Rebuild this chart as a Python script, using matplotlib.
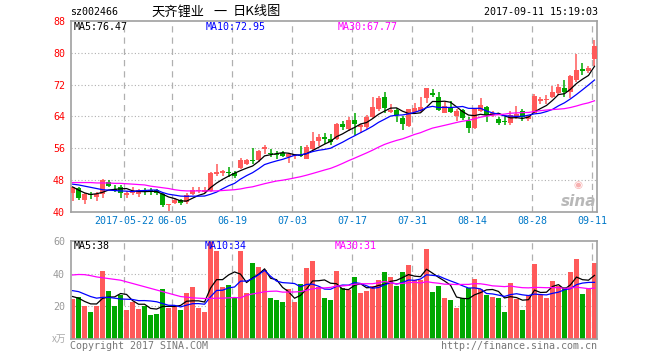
import numpy as np
import pandas as pd
import matplotlib
matplotlib.use('Agg')
import matplotlib.pyplot as plt

# ---- data ----
dates = ['2017-05-22', '06-05', '06-19', '07-03', '07-17', '07-31', '08-14', '08-28', '09-11']
date_idx = [9, 17, 27, 37, 47, 57, 67, 77, 87]

opens = [44.82, 45.99, 43.14, 44.48, 43.81, 44.48, 47.66, 45.82, 46.32, 44.15,
         44.82, 44.48, 45.49, 45.49, 45.65, 44.48, 41.80, 42.30, 42.97, 42.47,
         44.48, 45.32, 45.15, 45.32, 49.51, 49.84, 50.01, 49.84, 51.18, 52.02,
         53.03, 53.03, 55.71, 54.87, 54.70, 54.87, 53.70, 54.03, 54.37, 53.36,
         55.88, 57.89, 58.73, 58.22, 58.22, 62.08, 60.74, 63.08, 61.24, 61.24,
         63.75, 65.77, 68.95, 65.10, 65.60, 63.59, 61.58, 65.10, 65.43, 68.61,
         69.79, 68.95, 64.90, 66.27, 64.09, 65.60, 62.92, 61.07, 65.26, 66.44,
         64.26, 63.25, 62.75, 62.41, 63.75, 65.43, 63.42, 64.93, 67.94, 68.11,
         68.95, 69.96, 71.13, 70.12, 73.14, 75.82, 75.32, 78.50]
closes = [46.16, 43.64, 44.48, 44.15, 44.48, 48.00, 46.49, 45.32, 44.82, 44.82,
          45.15, 45.65, 45.15, 45.15, 44.65, 41.80, 42.13, 43.14, 42.30, 44.31,
          45.49, 45.65, 45.49, 49.68, 50.01, 50.18, 49.68, 49.17, 53.03, 53.03,
          52.86, 55.37, 56.21, 54.54, 54.37, 54.03, 54.70, 54.37, 54.03, 56.21,
          57.89, 58.73, 58.39, 57.55, 62.08, 61.41, 63.08, 62.08, 61.91, 63.92,
          66.27, 68.61, 66.10, 65.60, 64.26, 62.08, 65.77, 66.10, 66.44, 71.13,
          69.45, 65.60, 66.60, 65.10, 65.43, 63.59, 61.07, 65.93, 66.77, 64.26,
          64.76, 62.41, 62.58, 64.26, 64.59, 63.75, 64.09, 69.12, 68.45, 68.45,
          70.12, 71.46, 70.12, 74.15, 75.65, 75.49, 76.16, 81.60]
highs = [46.32, 46.32, 44.65, 44.98, 44.98, 48.17, 48.00, 46.66, 46.66, 45.32,
         46.32, 45.82, 45.99, 45.99, 45.82, 44.82, 42.13, 43.47, 43.31, 44.65,
         46.32, 46.16, 46.16, 50.01, 52.02, 50.68, 51.35, 50.35, 53.53, 53.20,
         56.04, 55.54, 56.72, 55.88, 55.21, 55.21, 54.87, 54.70, 56.55, 56.72,
         60.07, 59.56, 59.73, 59.56, 62.25, 62.75, 63.92, 64.76, 62.08, 64.26,
         68.78, 69.12, 70.12, 67.11, 66.10, 64.09, 65.93, 67.44, 68.78, 71.13,
         70.96, 70.12, 67.61, 67.94, 65.77, 65.93, 63.75, 65.93, 68.61, 66.60,
         65.26, 63.75, 63.75, 65.26, 66.60, 65.93, 64.42, 69.62, 68.95, 69.28,
         71.63, 72.13, 73.14, 74.31, 79.68, 77.50, 76.66, 83.20]
lows = [42.80, 43.14, 42.13, 43.31, 42.80, 43.64, 46.32, 44.98, 43.64, 43.47,
        44.31, 43.81, 44.15, 44.31, 44.15, 41.30, 40.29, 42.13, 41.80, 42.13,
        44.15, 44.82, 44.65, 44.98, 49.00, 49.17, 48.84, 48.50, 50.85, 51.69,
        52.02, 52.60, 54.70, 53.87, 53.36, 53.70, 52.36, 53.36, 53.87, 53.20,
        55.54, 56.55, 57.05, 56.88, 58.06, 60.57, 60.40, 59.23, 59.90, 60.90,
        63.59, 65.43, 64.93, 64.76, 62.58, 60.57, 61.24, 64.76, 65.10, 67.44,
        68.78, 65.26, 64.76, 64.76, 62.92, 63.08, 59.90, 60.74, 65.10, 62.58,
        63.75, 61.91, 61.74, 61.91, 63.25, 62.92, 62.75, 64.76, 67.11, 67.11,
        68.61, 69.45, 68.95, 68.61, 72.64, 74.48, 74.82, 76.66]
volumes = [24.4, 25.6, 20.0, 16.8, 20.4, 41.6, 29.6, 20.4, 27.2, 17.6,
           22.8, 18.4, 20.4, 14.4, 15.6, 30.8, 18.8, 20.0, 17.6, 28.4,
           32.0, 18.8, 16.4, 60.5, 54.0, 32.0, 33.2, 25.6, 53.6, 28.4,
           46.4, 44.0, 42.4, 24.8, 24.0, 22.8, 30.8, 22.4, 33.6, 43.2,
           47.6, 31.6, 24.8, 23.6, 41.6, 31.2, 30.0, 38.0, 28.4, 29.2,
           32.4, 36.0, 40.8, 38.0, 32.4, 40.8, 45.2, 36.0, 36.4, 55.2,
           28.8, 32.4, 24.8, 23.6, 18.8, 24.8, 31.2, 36.8, 30.4, 27.2,
           26.0, 25.2, 16.8, 34.4, 24.4, 18.0, 26.8, 46.0, 27.2, 25.2,
           35.6, 32.4, 31.6, 41.2, 48.8, 27.6, 30.8, 46.4]

# moving averages whose window starts before the first visible day
ma5_head = [46.3, 45.5, 44.8, 44.4]
ma10_head = [47.0, 46.8, 46.5, 46.2, 45.9, 45.6, 45.5, 45.4, 45.3]
ma30_head = [47.4, 47.4, 47.4, 47.4, 47.3, 47.3, 47.3, 47.2, 47.2, 47.1,
             47.0, 46.9, 46.8, 46.5, 46.3, 46.1, 45.9, 45.6, 45.4, 45.3,
             45.3, 45.3, 45.3, 45.3, 45.3, 45.4, 45.5, 45.6, 45.8]
vma5_head = [26.0, 25.0, 23.0, 21.5]
vma10_head = [29.6, 29.0, 27.5, 26.0, 25.0, 25.5, 25.5, 25.0, 24.5]
vma30_head = [39.2, 39.5, 39.4, 38.8, 38.0, 37.5, 37.0, 36.5, 36.0, 35.0,
              34.0, 33.0, 32.0, 31.0, 30.0, 29.0, 28.0, 27.0, 26.0, 25.6,
              25.2, 25.0, 24.8, 24.8, 25.0, 25.0, 25.2, 25.4, 25.2]

RED = '#ff5a5a'
GREEN = '#00a800'
BORDER = '#a0a0a0'
MONO = 'DejaVu Sans Mono'
CJK = ['Noto Sans CJK SC', 'DejaVu Sans']
FS = 7.2


def moving(series, n, head):
    m = pd.Series(series).rolling(n).mean().to_numpy()
    m[:len(head)] = head
    return m


o = np.array(opens)
c = np.array(closes)
h = np.array(highs)
l = np.array(lows)
v = np.array(volumes)
x = np.arange(len(c))
up = c >= o
cols = np.where(up, RED, GREEN)

W, H = 660, 360
fig = plt.figure(figsize=(6.6, 3.6), dpi=100)


def fx(px):
    return px / W


def fy(py):
    return 1 - py / H


left, right = 70.5, 597
ax = fig.add_axes([fx(left), fy(212), fx(right - left), (212 - 21) / H])
axv = fig.add_axes([fx(left), fy(339), fx(right - left), (339 - 241) / H])

xl = (-0.35, 87.42)
grid_x = [i - 0.37 for i in date_idx]

for a in (ax, axv):
    a.set_xlim(*xl)
    for s in a.spines.values():
        s.set_color(BORDER)
        s.set_linewidth(1.2)
    a.tick_params(length=0)
    for gx in grid_x:
        a.axvline(gx, color='#b0b0b0', lw=0.9, ls=(0, (5, 4)), zorder=0)

# price pane
ax.set_ylim(40, 88)
yt = [40, 48, 56, 64, 72, 80, 88]
ax.set_yticks(yt)
ax.set_yticklabels([str(t) for t in yt], color='red', fontsize=FS, family=MONO)
ax.tick_params(axis='y', pad=4)
for t in yt[1:-1]:
    ax.axhline(t, color='#b0b0b0', lw=0.8, ls=(0, (1, 2)), zorder=0)
ax.set_xticks(grid_x)
ax.set_xticklabels(dates, color='#0078c8', fontsize=FS, family=MONO)
ax.tick_params(axis='x', pad=3)

bottom = np.minimum(o, c)
height = np.maximum(np.abs(c - o), 0.25)
ax.vlines(x, l, h, colors=cols, lw=1.1, zorder=2)
ax.bar(x, height, bottom=bottom, width=0.82, color=cols, zorder=3)

ax.plot(x, moving(c, 5, ma5_head), color='black', lw=0.9, zorder=4)
ax.plot(x, moving(c, 10, ma10_head), color='#0000ff', lw=0.9, zorder=4)
ax.plot(x, moving(c, 30, ma30_head), color='#ff00ff', lw=0.9, zorder=4)

# volume pane
axv.set_ylim(0, 60)
axv.set_yticks([20, 40, 60])
axv.set_yticklabels(['20', '40', '60'], color='#999999', fontsize=FS, family=MONO)
axv.tick_params(axis='y', pad=4)
axv.set_xticks([])
for t in (20, 40):
    axv.axhline(t, color='#b0b0b0', lw=0.8, ls=(0, (1, 2)), zorder=0)
axv.bar(x, v, width=0.82, color=cols, zorder=2)
axv.plot(x, moving(v, 5, vma5_head), color='black', lw=0.9, zorder=4)
axv.plot(x, moving(v, 10, vma10_head), color='#0000ff', lw=0.9, zorder=4)
axv.plot(x, moving(v, 30, vma30_head), color='#ff00ff', lw=0.9, zorder=4)

# header texts
fig.text(fx(70), fy(12), 'sz002466', fontsize=FS, family=MONO, va='center')
fig.text(fx(151), fy(12), '天齐锂业', fontsize=9.5, family=CJK, va='center')
fig.text(fx(213), fy(12), '一', fontsize=9.5, family=CJK, va='center')
fig.text(fx(233), fy(12), '日K线图', fontsize=9.5, family=CJK, va='center')
fig.text(fx(598), fy(12), '2017-09-11 15:19:03', fontsize=FS, family=MONO,
         va='center', ha='right')

fig.text(fx(74), fy(27.5), 'MA5:76.47', fontsize=FS, family=MONO, va='center', color='black')
fig.text(fx(206), fy(27.5), 'MA10:72.95', fontsize=FS, family=MONO, va='center', color='#0000ff')
fig.text(fx(338), fy(27.5), 'MA30:67.77', fontsize=FS, family=MONO, va='center', color='#ff00ff')

fig.text(fx(74), fy(246), 'MA5:38', fontsize=FS, family=MONO, va='center', color='black')
fig.text(fx(205), fy(246), 'MA10:34', fontsize=FS, family=MONO, va='center', color='#0000ff')
fig.text(fx(335), fy(246), 'MA30:31', fontsize=FS, family=MONO, va='center', color='#ff00ff')

fig.text(fx(66), fy(339), 'x万', fontsize=7, color='#aaaaaa', ha='right', va='center', family=CJK)
fig.text(fx(70), fy(346), 'Copyright 2017 SINA.COM', fontsize=FS, family=MONO,
         color='#777777', va='center')
fig.text(fx(597), fy(346), 'http://finance.sina.com.cn', fontsize=FS, family=MONO,
         color='#777777', va='center', ha='right')

# sina watermark
fig.text(fx(596), fy(201), 'sina', fontsize=11, fontweight='bold', style='italic',
         color='#b8b8b8', ha='right', va='center')
fig.text(fx(578), fy(185), '◉', fontsize=7.5, color='#f7b0b0', ha='center', va='center',
         family='DejaVu Sans')

fig.savefig('out.png', dpi=100, facecolor='white')
